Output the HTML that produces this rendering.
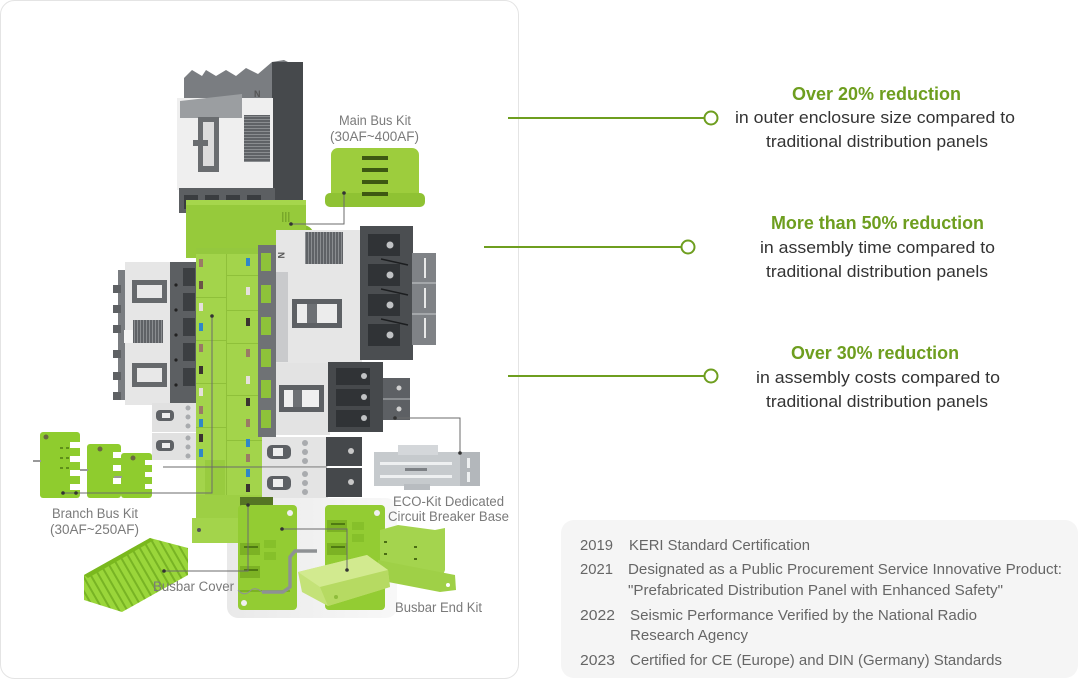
<!DOCTYPE html>
<html>
<head>
<meta charset="utf-8">
<style>
html,body{margin:0;padding:0;background:#fff;}
body{width:1080px;height:680px;overflow:hidden;}
svg{display:block;}
.lbl{font-family:"Liberation Sans",sans-serif;font-size:13.5px;fill:#7a7a7a;}
.hd{font-family:"Liberation Sans",sans-serif;font-size:18px;font-weight:bold;fill:#6e9e1f;}
.bd{font-family:"Liberation Sans",sans-serif;font-size:17px;fill:#333;}
.ct{font-family:"Liberation Sans",sans-serif;font-size:14.5px;fill:#666;}
</style>
</head>
<body>
<svg width="1080" height="680" viewBox="0 0 1080 680" xmlns="http://www.w3.org/2000/svg">
<defs>
  <linearGradient id="pan" x1="0" x2="1" y1="0" y2="0">
    <stop offset="0" stop-color="#e9e9e9"/>
    <stop offset="1" stop-color="#f8f8f8"/>
  </linearGradient>
  <pattern id="grill" width="4" height="3" patternUnits="userSpaceOnUse">
    <rect width="4" height="3" fill="#5f6266"/>
    <rect y="2" width="4" height="1" fill="#8a8d90"/>
  </pattern>
  <pattern id="grillv" width="3" height="4" patternUnits="userSpaceOnUse">
    <rect width="3" height="4" fill="#5f6266"/>
    <rect x="2" width="1" height="4" fill="#8a8d90"/>
  </pattern>
  <pattern id="fins" width="7" height="7" patternUnits="userSpaceOnUse" patternTransform="rotate(-30)">
    <rect width="7" height="7" fill="#9ad63a"/>
    <rect width="2" height="7" fill="#78b424"/>
  </pattern>
</defs>

<!-- card -->
<rect x="0.5" y="0.5" width="518" height="678" rx="14" fill="#fff" stroke="#e4e4e4" stroke-width="1"/>

<!-- bottom gray panel -->
<rect x="227" y="498" width="170" height="120" rx="11" fill="url(#pan)"/>

<!-- ===== TOP BREAKER ===== -->
<polygon points="184,100 184,78 192,70 202,76 206,70 216,76 226,70 236,76 246,68 258,74 272,62 284,60 300,68 303,72 303,100" fill="#7a7d81"/>
<rect x="272" y="62" width="31" height="145" fill="#46494c"/>
<rect x="177" y="98" width="96" height="92" fill="#efefef"/>
<polygon points="180,101 242,94 242,118 180,118" fill="#9b9ea1"/>
<rect x="198" y="117" width="21" height="55" fill="#6a6d70"/>
<rect x="203" y="122" width="11" height="44" fill="#dcdcdc"/>
<rect x="193" y="140" width="15" height="6" fill="#6a6d70"/>
<rect x="244" y="115" width="26" height="47" fill="url(#grill)"/>
<text x="254" y="97" font-family="Liberation Sans,sans-serif" font-size="9" font-weight="bold" fill="#555">N</text>
<rect x="179" y="188" width="96" height="25" fill="#5c5f62"/>
<rect x="184" y="195" width="14" height="14" fill="#3a3d40"/>
<rect x="205" y="195" width="14" height="14" fill="#3a3d40"/>
<rect x="226" y="195" width="14" height="14" fill="#3a3d40"/>
<rect x="247" y="195" width="14" height="14" fill="#3a3d40"/>

<!-- green top block -->
<circle cx="303" cy="236" r="11" fill="#86bd2f"/>
<rect x="186" y="200" width="120" height="58" fill="#96ca3b"/>
<rect x="186" y="200" width="120" height="5" fill="#a6d64c"/>
<rect x="282" y="212" width="1.5" height="10" fill="#78a82a"/>
<rect x="285" y="212" width="1.5" height="10" fill="#78a82a"/>
<rect x="288" y="212" width="1.5" height="10" fill="#78a82a"/>

<!-- Main bus kit box -->
<rect x="331" y="148" width="88" height="54" rx="7" fill="#9dcd3d"/>
<rect x="325" y="193" width="100" height="14" rx="5" fill="#8fc233"/>
<rect x="362" y="156" width="26" height="4" fill="#3d5812"/>
<rect x="362" y="168" width="26" height="4" fill="#3d5812"/>
<rect x="362" y="180" width="26" height="4" fill="#3d5812"/>
<rect x="362" y="192" width="26" height="4" fill="#3d5812"/>

<!-- ===== LEFT BREAKER ===== -->
<rect x="118" y="270" width="12" height="130" fill="#7a7d81"/>
<rect x="113" y="285" width="8" height="8" fill="#5e6164"/>
<rect x="113" y="305" width="8" height="8" fill="#5e6164"/>
<rect x="113" y="325" width="8" height="8" fill="#5e6164"/>
<rect x="113" y="350" width="8" height="8" fill="#5e6164"/>
<rect x="113" y="372" width="8" height="8" fill="#5e6164"/>
<rect x="113" y="392" width="8" height="8" fill="#5e6164"/>
<rect x="125" y="262" width="46" height="143" fill="#e6e6e6"/>
<rect x="132" y="280" width="35" height="23" fill="#66696c"/>
<rect x="137" y="285" width="25" height="13" fill="#e8e8e8"/>
<rect x="133" y="320" width="30" height="23" fill="url(#grillv)"/>
<rect x="124" y="330" width="9" height="13" fill="#f4f4f4"/>
<rect x="132" y="363" width="35" height="24" fill="#66696c"/>
<rect x="137" y="368" width="25" height="14" fill="#e8e8e8"/>
<rect x="170" y="262" width="27" height="145" fill="#5c5f62"/>
<circle cx="176" cy="285" r="1.6" fill="#222"/><circle cx="176" cy="310" r="1.6" fill="#222"/>
<circle cx="176" cy="335" r="1.6" fill="#222"/><circle cx="176" cy="360" r="1.6" fill="#222"/>
<circle cx="176" cy="385" r="1.6" fill="#222"/>
<rect x="183" y="268" width="12" height="18" fill="#3c3f42"/>
<rect x="183" y="293" width="12" height="18" fill="#3c3f42"/>
<rect x="183" y="318" width="12" height="18" fill="#3c3f42"/>
<rect x="183" y="343" width="12" height="18" fill="#3c3f42"/>
<rect x="183" y="368" width="12" height="18" fill="#3c3f42"/>

<!-- left small breakers -->
<rect x="152" y="403" width="45" height="29" fill="#e1e1e1"/>
<rect x="152" y="433" width="45" height="27" fill="#e1e1e1"/>
<rect x="156" y="410" width="18" height="11" rx="4" fill="#5f6266"/>
<rect x="162" y="413" width="8" height="5" fill="#eee"/>
<rect x="156" y="440" width="18" height="11" rx="4" fill="#5f6266"/>
<rect x="162" y="443" width="8" height="5" fill="#eee"/>
<circle cx="188" cy="408" r="2.5" fill="#a9abae"/><circle cx="188" cy="417" r="2.5" fill="#a9abae"/><circle cx="188" cy="426" r="2.5" fill="#a9abae"/>
<circle cx="188" cy="438" r="2.5" fill="#a9abae"/><circle cx="188" cy="447" r="2.5" fill="#a9abae"/><circle cx="188" cy="456" r="2.5" fill="#a9abae"/>

<!-- ===== CENTRAL GREEN COLUMN ===== -->
<rect x="196" y="248" width="66" height="252" fill="#a3d44b"/>
<rect x="226" y="250" width="1" height="250" fill="#8fc03a"/>
<rect x="196" y="248" width="66" height="6" fill="#94c83e"/>
<g fill="#8fc03a">
<rect x="196" y="297" width="30" height="1"/><rect x="196" y="340" width="30" height="1"/>
<rect x="196" y="383" width="30" height="1"/><rect x="196" y="427" width="30" height="1"/>
<rect x="227" y="275" width="35" height="1"/><rect x="227" y="310" width="35" height="1"/>
<rect x="227" y="343" width="35" height="1"/><rect x="227" y="395" width="35" height="1"/>
<rect x="227" y="440" width="35" height="1"/>
</g>
<!-- badges left -->
<rect x="199" y="259" width="4" height="8" fill="#9a7a66"/>
<rect x="199" y="281" width="4" height="8" fill="#6b5448"/>
<rect x="199" y="303" width="4" height="8" fill="#e6e0dc"/>
<rect x="199" y="323" width="4" height="8" fill="#2f87c8"/>
<rect x="199" y="344" width="4" height="8" fill="#9a7a66"/>
<rect x="199" y="366" width="4" height="8" fill="#3a3330"/>
<rect x="199" y="388" width="4" height="8" fill="#e6e0dc"/>
<rect x="199" y="406" width="4" height="8" fill="#9a7a66"/>
<rect x="199" y="419" width="4" height="8" fill="#2f87c8"/>
<rect x="199" y="434" width="4" height="8" fill="#3a3330"/>
<rect x="199" y="449" width="4" height="8" fill="#2f87c8"/>
<!-- badges right -->
<rect x="246" y="258" width="4" height="8" fill="#2f87c8"/>
<rect x="246" y="287" width="4" height="8" fill="#e6e0dc"/>
<rect x="246" y="318" width="4" height="8" fill="#3a3330"/>
<rect x="246" y="349" width="4" height="8" fill="#9a7a66"/>
<rect x="246" y="376" width="4" height="8" fill="#e6e0dc"/>
<rect x="246" y="398" width="4" height="8" fill="#3a3330"/>
<rect x="246" y="419" width="4" height="8" fill="#9a7a66"/>
<rect x="246" y="439" width="4" height="8" fill="#2f87c8"/>
<rect x="246" y="454" width="4" height="8" fill="#9a7a66"/>
<rect x="246" y="469" width="4" height="8" fill="#2f87c8"/>
<rect x="246" y="484" width="4" height="8" fill="#3a3330"/>

<!-- gray strip of right breaker -->
<rect x="258" y="245" width="18" height="192" fill="#6f7275"/>
<rect x="261" y="253" width="10" height="18" fill="#8ec23a"/>
<rect x="261" y="285" width="10" height="18" fill="#8ec23a"/>
<rect x="261" y="317" width="10" height="18" fill="#8ec23a"/>
<rect x="261" y="349" width="10" height="18" fill="#8ec23a"/>
<rect x="261" y="380" width="10" height="18" fill="#8ec23a"/>
<rect x="261" y="410" width="10" height="18" fill="#8ec23a"/>

<!-- ===== RIGHT BIG BREAKER ===== -->
<rect x="276" y="230" width="86" height="133" fill="#e6e6e6"/>
<rect x="276" y="272" width="12" height="90" fill="#c9cacc"/>
<rect x="305" y="232" width="38" height="32" fill="url(#grillv)"/>
<text x="278" y="260" font-family="Liberation Sans,sans-serif" font-size="9" font-weight="bold" fill="#555" transform="rotate(90 282 256)">N</text>
<rect x="292" y="299" width="50" height="29" fill="#5d6064"/>
<rect x="297" y="304" width="40" height="19" fill="#ececec"/>
<rect x="307" y="304" width="10" height="19" fill="#6d7074"/>
<rect x="360" y="226" width="53" height="134" fill="#4b4e51"/>
<g fill="#303336">
<rect x="368" y="234" width="32" height="22"/><rect x="368" y="264" width="32" height="22"/>
<rect x="368" y="294" width="32" height="22"/><rect x="368" y="324" width="32" height="22"/>
</g>
<g fill="#c0c2c4">
<circle cx="390" cy="245" r="3.5"/><circle cx="390" cy="275" r="3.5"/>
<circle cx="390" cy="305" r="3.5"/><circle cx="390" cy="335" r="3.5"/>
</g>
<g stroke="#1c1e20" stroke-width="1.5">
<line x1="381" y1="259" x2="408" y2="265"/><line x1="381" y1="289" x2="408" y2="295"/>
<line x1="381" y1="319" x2="408" y2="325"/>
</g>
<rect x="412" y="253" width="24" height="92" fill="#7f8286"/>
<rect x="412" y="282" width="24" height="2" fill="#a4a7aa"/>
<rect x="412" y="313" width="24" height="2" fill="#a4a7aa"/>
<g fill="#e8e8e8">
<rect x="424" y="258" width="2" height="20"/><rect x="424" y="288" width="2" height="20"/><rect x="424" y="318" width="2" height="20"/>
</g>

<!-- breaker 2 -->
<rect x="276" y="363" width="54" height="72" fill="#e3e3e3"/>
<rect x="279" y="385" width="45" height="27" fill="#5d6064"/>
<rect x="284" y="390" width="35" height="17" fill="#efefef"/>
<rect x="293" y="390" width="9" height="17" fill="#6d7074"/>
<rect x="328" y="362" width="55" height="70" fill="#46494c"/>
<g fill="#303336"><rect x="336" y="368" width="34" height="17"/><rect x="336" y="389" width="34" height="17"/><rect x="336" y="410" width="34" height="17"/></g>
<g fill="#c0c2c4"><circle cx="364" cy="376" r="3"/><circle cx="364" cy="397" r="3"/><circle cx="364" cy="418" r="3"/></g>
<rect x="383" y="378" width="27" height="42" fill="#5d6064"/>
<rect x="383" y="398" width="27" height="2" fill="#8a8d90"/>
<circle cx="399" cy="388" r="2.5" fill="#d0d0d0"/><circle cx="399" cy="409" r="2.5" fill="#d0d0d0"/>

<!-- lower breakers -->
<rect x="262" y="437" width="66" height="30" fill="#e4e4e4"/>
<rect x="262" y="468" width="66" height="30" fill="#e4e4e4"/>
<rect x="267" y="445" width="24" height="14" rx="5" fill="#5d6064"/>
<rect x="273" y="448" width="10" height="8" fill="#eee"/>
<rect x="267" y="476" width="24" height="14" rx="5" fill="#5d6064"/>
<rect x="273" y="479" width="10" height="8" fill="#eee"/>
<g fill="#a9abae">
<circle cx="305" cy="443" r="3"/><circle cx="305" cy="452" r="3"/><circle cx="305" cy="461" r="3"/>
<circle cx="305" cy="474" r="3"/><circle cx="305" cy="483" r="3"/><circle cx="305" cy="492" r="3"/>
</g>
<rect x="326" y="437" width="36" height="29" fill="#45484b"/>
<rect x="326" y="468" width="36" height="29" fill="#45484b"/>
<circle cx="351" cy="451" r="3" fill="#c8c8c8"/><circle cx="351" cy="482" r="3" fill="#c8c8c8"/>

<!-- DIN bracket -->
<rect x="374" y="452" width="106" height="34" fill="#c6cacd"/>
<rect x="398" y="445" width="40" height="10" fill="#d4d7da"/>
<rect x="404" y="484" width="26" height="6" fill="#b8bcc0"/>
<rect x="380" y="462" width="72" height="3" fill="#eef0f1"/>
<rect x="380" y="475" width="72" height="3" fill="#eef0f1"/>
<rect x="460" y="452" width="20" height="34" fill="#b3b7bb"/>
<rect x="467" y="458" width="3" height="10" fill="#eef0f1"/><rect x="467" y="472" width="3" height="10" fill="#eef0f1"/>
<rect x="405" y="468" width="22" height="3" fill="#7d8185"/>

<!-- ===== LOWER GREEN STEM ===== -->
<rect x="205" y="460" width="20" height="60" fill="#98cb3f"/>
<rect x="196" y="495" width="66" height="25" fill="#9dcf44"/>
<rect x="240" y="497" width="33" height="23" fill="#557524"/>
<rect x="192" y="518" width="80" height="25" fill="#a3d44b"/>
<rect x="252" y="518" width="42" height="25" fill="#5e7b2b"/>
<circle cx="199" cy="530" r="2" fill="#555"/><circle cx="249" cy="532" r="2" fill="#ccc"/>

<!-- base parts -->
<g>
<rect x="238" y="505" width="59" height="105" rx="4" fill="#93cc33"/>
<rect x="240" y="543" width="20" height="12" fill="#7cb224"/>
<rect x="240" y="566" width="20" height="12" fill="#7cb224"/>
<rect x="244" y="546" width="14" height="2" fill="#4f7a12"/>
<rect x="244" y="569" width="14" height="2" fill="#4f7a12"/>
<rect x="264" y="540" width="12" height="8" fill="#86c02a"/>
<rect x="264" y="552" width="12" height="8" fill="#86c02a"/>
<circle cx="290" cy="513" r="3" fill="#f0f0f0"/>
<circle cx="244" cy="603" r="3" fill="#f0f0f0"/>
<rect x="240" y="590" width="50" height="2" fill="#7cb224"/>
</g>
<g>
<rect x="325" y="505" width="60" height="105" rx="4" fill="#93cc33"/>
<rect x="327" y="520" width="20" height="12" fill="#7cb224"/>
<rect x="327" y="543" width="20" height="12" fill="#7cb224"/>
<rect x="331" y="523" width="14" height="2" fill="#4f7a12"/>
<rect x="331" y="546" width="14" height="2" fill="#4f7a12"/>
<circle cx="377" cy="513" r="3" fill="#f0f0f0"/>
<rect x="352" y="522" width="12" height="8" fill="#86c02a"/>
<rect x="352" y="534" width="12" height="8" fill="#86c02a"/>
</g>

<!-- gray bent bar -->
<polyline points="317,551 295,551 290,557 290,587 283,592 262,592" fill="none" stroke="#8e9194" stroke-width="3.5" stroke-linejoin="round"/>
<path d="M262,592 Q255,586 250,591 Q244,597 238,590" fill="none" stroke="#8e9194" stroke-width="1"/>

<!-- ECO plates -->
<polygon points="380,530 398,525 435,530 445,528 445,570 440,583 380,575" fill="#a4d44e"/>
<polygon points="378,560 455,575 456,590 440,592 378,580" fill="#9fd047"/>
<g fill="#4a6d14">
<rect x="384" y="541" width="3" height="2"/><rect x="384" y="553" width="3" height="2"/>
<rect x="414" y="546" width="3" height="2"/><rect x="414" y="558" width="3" height="2"/>
</g>
<circle cx="448" cy="585" r="2" fill="#fff"/>

<!-- busbar end kit -->
<polygon points="298,572 367,555 388,570 390,587 328,606 302,592" fill="#c4e278"/>
<polygon points="298,572 367,555 388,570 320,587" fill="#d2ea8f"/>
<polygon points="320,587 388,570 390,587 328,606" fill="#b6da62"/>
<circle cx="336" cy="597" r="2" fill="#8fbd3c"/>

<!-- busbar cover -->
<polygon points="84,575 150,538 188,548 188,575 122,612 84,600" fill="url(#fins)"/>
<polygon points="84,575 150,538 154,540 88,578" fill="#7ab81e"/>

<!-- branch bus kits -->
<g>
<rect x="40" y="432" width="40" height="66" rx="3" fill="#8fcc2e"/>
<rect x="70" y="442" width="12" height="6" fill="#fff"/>
<rect x="70" y="456" width="12" height="6" fill="#fff"/>
<rect x="70" y="470" width="12" height="6" fill="#fff"/>
<rect x="70" y="484" width="12" height="6" fill="#fff"/>
<rect x="33" y="460" width="8" height="2" fill="#999"/>
<g fill="#5f8f1a"><rect x="60" y="447" width="3" height="2"/><rect x="66" y="447" width="3" height="2"/><rect x="60" y="457" width="3" height="2"/><rect x="66" y="457" width="3" height="2"/><rect x="60" y="467" width="3" height="2"/><rect x="66" y="467" width="3" height="2"/></g>
<circle cx="46" cy="437" r="2.5" fill="#6a6a40"/>
</g>
<g>
<rect x="87" y="444" width="34" height="54" rx="3" fill="#8fcc2e"/>
<rect x="113" y="452" width="10" height="6" fill="#fff"/>
<rect x="113" y="465" width="10" height="6" fill="#fff"/>
<rect x="113" y="478" width="10" height="6" fill="#fff"/>
<rect x="80" y="469" width="8" height="2" fill="#999"/>
<circle cx="100" cy="449" r="2.5" fill="#6a6a40"/>
</g>
<g>
<rect x="121" y="453" width="31" height="45" rx="3" fill="#8fcc2e"/>
<rect x="145" y="460" width="9" height="5" fill="#fff"/>
<rect x="145" y="472" width="9" height="5" fill="#fff"/>
<rect x="145" y="484" width="9" height="5" fill="#fff"/>
<rect x="114" y="476" width="8" height="2" fill="#999"/>
<circle cx="133" cy="458" r="2.5" fill="#6a6a40"/>
</g>

<!-- leader lines -->
<g fill="none" stroke="#6b6b6b" stroke-width="1">
<polyline points="291,224 344,224 344,193"/>
<polyline points="63,493 212,493 212,316"/>
<polyline points="164,571 248,571 248,505"/>
<polyline points="282,529 347,529 347,570"/>
<polyline points="395,418 460,418 460,453"/>
<line x1="163" y1="467" x2="327" y2="467"/>
</g>
<g fill="#333">
<circle cx="291" cy="224" r="1.8"/><circle cx="344" cy="193" r="1.8"/>
<circle cx="63" cy="493" r="1.8"/><circle cx="76" cy="493" r="1.8"/><circle cx="212" cy="316" r="1.8"/>
<circle cx="164" cy="571" r="1.8"/><circle cx="248" cy="505" r="1.8"/>
<circle cx="282" cy="529" r="1.8"/><circle cx="347" cy="570" r="1.8"/>
<circle cx="395" cy="418" r="1.8"/><circle cx="460" cy="453" r="1.8"/>
</g>

<!-- labels -->
<text class="lbl" x="339" y="125" textLength="72" lengthAdjust="spacingAndGlyphs">Main Bus Kit</text>
<text class="lbl" x="330" y="141" textLength="89" lengthAdjust="spacingAndGlyphs">(30AF~400AF)</text>
<text class="lbl" x="52" y="518" textLength="86" lengthAdjust="spacingAndGlyphs">Branch Bus Kit</text>
<text class="lbl" x="50" y="534" textLength="89" lengthAdjust="spacingAndGlyphs">(30AF~250AF)</text>
<text class="lbl" x="153" y="591" textLength="81" lengthAdjust="spacingAndGlyphs">Busbar Cover</text>
<text class="lbl" x="393" y="506" textLength="111" lengthAdjust="spacingAndGlyphs">ECO-Kit Dedicated</text>
<text class="lbl" x="388" y="521" textLength="121" lengthAdjust="spacingAndGlyphs">Circuit Breaker Base</text>
<text class="lbl" x="395" y="612" textLength="87" lengthAdjust="spacingAndGlyphs">Busbar End Kit</text>

<!-- green connector lines -->
<g stroke="#6e9e1f" stroke-width="2" fill="none">
<line x1="508" y1="118" x2="705" y2="118"/>
<line x1="484" y1="247" x2="682" y2="247"/>
<line x1="508" y1="376" x2="705" y2="376"/>
</g>
<g stroke="#6e9e1f" stroke-width="2" fill="#fff">
<circle cx="711" cy="118" r="6.5"/>
<circle cx="688" cy="247" r="6.5"/>
<circle cx="711" cy="376" r="6.5"/>
</g>

<!-- right feature text -->
<text class="hd" x="792" y="100" textLength="169" lengthAdjust="spacingAndGlyphs">Over 20% reduction</text>
<text class="bd" x="735" y="123" textLength="280" lengthAdjust="spacingAndGlyphs">in outer enclosure size compared to</text>
<text class="bd" x="766" y="147" textLength="222" lengthAdjust="spacingAndGlyphs">traditional distribution panels</text>

<text class="hd" x="771" y="229" textLength="213" lengthAdjust="spacingAndGlyphs">More than 50% reduction</text>
<text class="bd" x="760" y="253" textLength="235" lengthAdjust="spacingAndGlyphs">in assembly time compared to</text>
<text class="bd" x="766" y="277" textLength="222" lengthAdjust="spacingAndGlyphs">traditional distribution panels</text>

<text class="hd" x="791" y="359" textLength="168" lengthAdjust="spacingAndGlyphs">Over 30% reduction</text>
<text class="bd" x="756" y="383" textLength="244" lengthAdjust="spacingAndGlyphs">in assembly costs compared to</text>
<text class="bd" x="766" y="407" textLength="222" lengthAdjust="spacingAndGlyphs">traditional distribution panels</text>

<!-- certification box -->
<rect x="561" y="520" width="517" height="158" rx="13" fill="#f5f5f5"/>
<text class="ct" x="580" y="550" textLength="33" lengthAdjust="spacingAndGlyphs">2019</text>
<text class="ct" x="629" y="550" textLength="181" lengthAdjust="spacingAndGlyphs">KERI Standard Certification</text>
<text class="ct" x="580" y="574" textLength="33" lengthAdjust="spacingAndGlyphs">2021</text>
<text class="ct" x="628" y="574" textLength="434" lengthAdjust="spacingAndGlyphs">Designated as a Public Procurement Service Innovative Product:</text>
<text class="ct" x="628" y="595" textLength="375" lengthAdjust="spacingAndGlyphs">"Prefabricated Distribution Panel with Enhanced Safety"</text>
<text class="ct" x="580" y="620" textLength="35" lengthAdjust="spacingAndGlyphs">2022</text>
<text class="ct" x="630" y="620" textLength="347" lengthAdjust="spacingAndGlyphs">Seismic Performance Verified by the National Radio</text>
<text class="ct" x="630" y="640" textLength="118" lengthAdjust="spacingAndGlyphs">Research Agency</text>
<text class="ct" x="580" y="665" textLength="35" lengthAdjust="spacingAndGlyphs">2023</text>
<text class="ct" x="630" y="665" textLength="372" lengthAdjust="spacingAndGlyphs">Certified for CE (Europe) and DIN (Germany) Standards</text>
</svg>
</body>
</html>
